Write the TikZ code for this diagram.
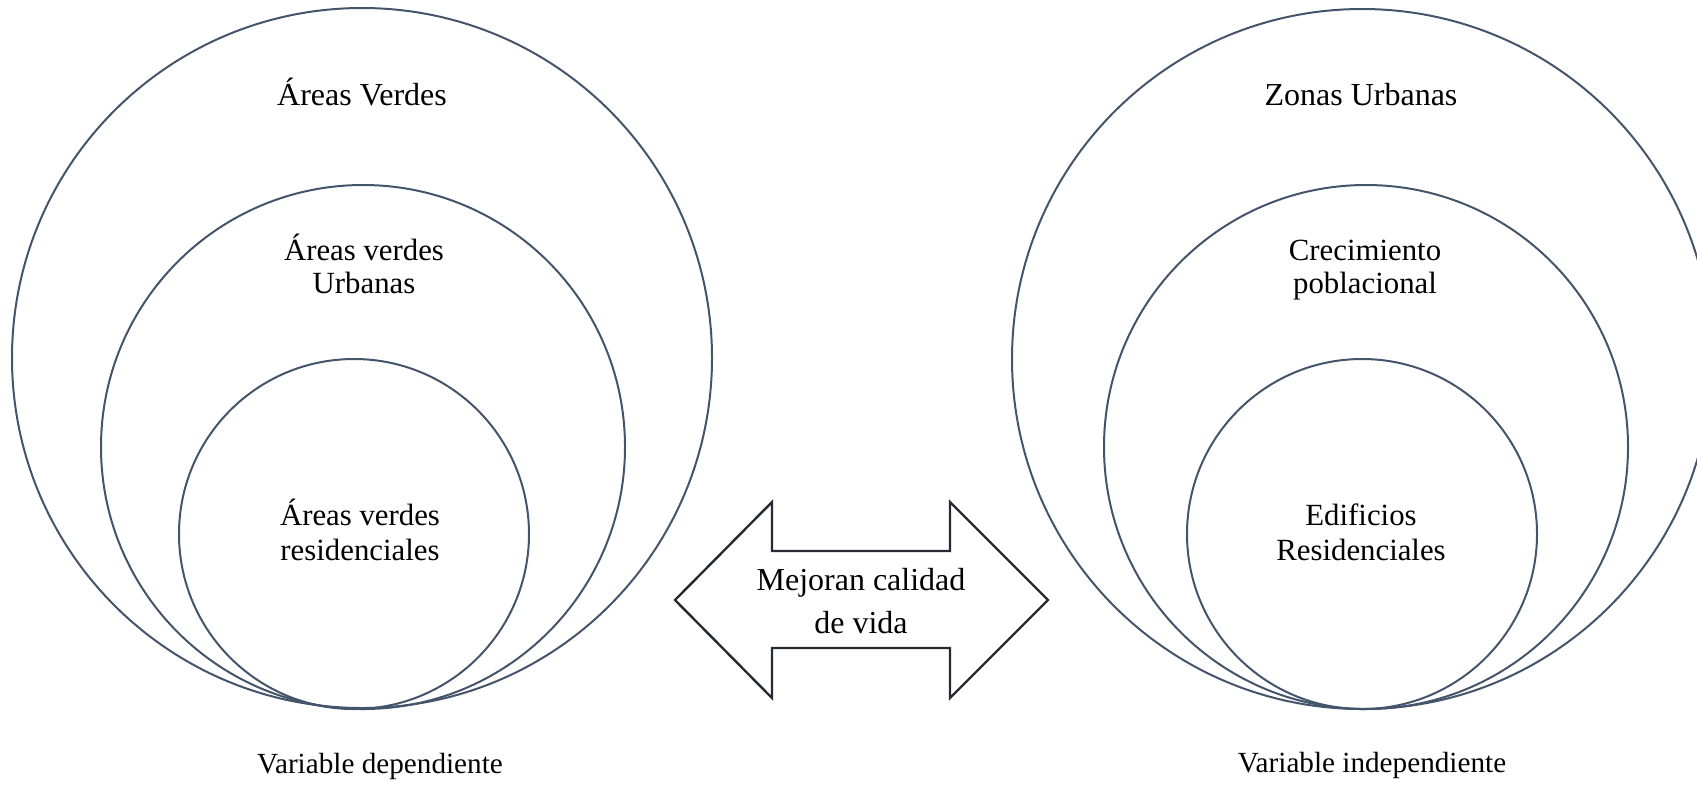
\documentclass[tikz,border=0pt]{standalone}
\usepackage{fontspec}
\setmainfont{Liberation Serif}
\definecolor{anillocol}{HTML}{44546A}
\definecolor{flechacol}{HTML}{262B33}
\tikzset{
  anillo/.style={draw=anillocol, line width=1pt},
  etiqueta/.style={align=center, inner sep=0pt, anchor=base,
    font=\fontsize{15.4}{16.3}\selectfont},
  titulo/.style={etiqueta, font=\fontsize{16}{16}\selectfont},
  pie/.style={etiqueta, font=\fontsize{14.6}{15}\selectfont},
}
\begin{document}
\begin{tikzpicture}[x=0.5pt,y=-0.5pt]
    \useasboundingbox (0,0) rectangle (1697,784);
    \clip (0,0) rectangle (1697,784);
    % variable dependiente
    \draw [anillo] (362,358) circle (350);
    \draw [anillo] (363,447) circle (262);
    \draw [anillo] (354,534) circle (175);
    \node [titulo]   (verdes)   at (362,105) {Áreas Verdes};
    \node [etiqueta] (urbanas)  at (364,293) {Áreas verdes\\Urbanas};
    \node [etiqueta, font=\fontsize{15.4}{17.3}\selectfont] (resid) at (360,560) {Áreas verdes\\residenciales};
    \node [pie]      (vdep)     at (380,773) {Variable dependiente};
    % variable independiente
    \draw [anillo] (1362,359) circle (350);
    \draw [anillo] (1366,447) circle (262);
    \draw [anillo] (1362,534) circle (175);
    \node [titulo]   (zonas)    at (1361,105) {Zonas Urbanas};
    \node [etiqueta] (crec)     at (1365,293) {Crecimiento\\poblacional};
    \node [etiqueta, font=\fontsize{15.4}{17.3}\selectfont] (edif) at (1361,560) {Edificios\\Residenciales};
    \node [pie]      (vindep)   at (1372,772) {Variable independiente};
    % flecha doble
    \draw [flechacol, line width=1.2pt, fill=white]
      (675,600) -- (772,502) -- (772,551) -- (950,551) -- (950,502) -- (1048,600)
      -- (950,698) -- (950,648) -- (772,648) -- (772,698) -- cycle;
    \node [titulo, font=\fontsize{16}{21.5}\selectfont] (mejora) at (861,633) {Mejoran calidad\\de vida};
\end{tikzpicture}
\end{document}
